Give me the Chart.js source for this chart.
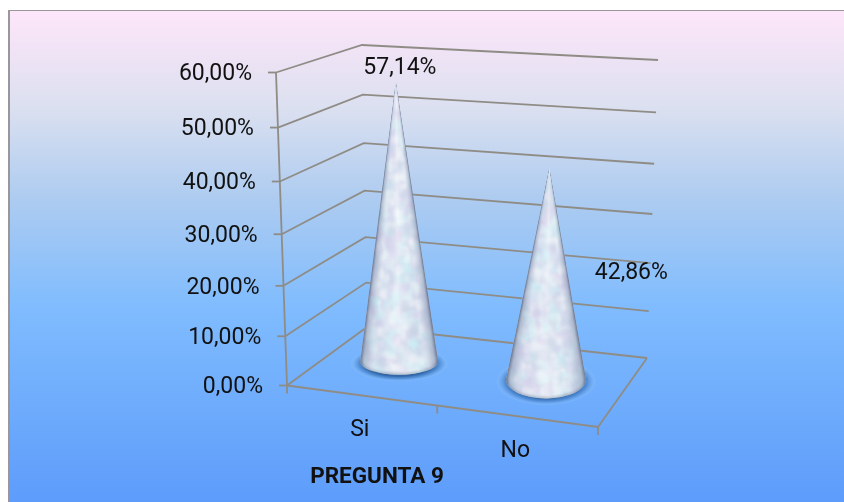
<!DOCTYPE html>
<html lang="es">
<head>
<meta charset="utf-8">
<title>Pregunta 9</title>
<script src="https://cdn.jsdelivr.net/npm/chart.js@4"></script>
<style>
  html, body { margin: 0; padding: 0; background: #fff; }
  canvas { display: block; }
</style>
</head>
<body>
<canvas id="chart" width="844" height="502"></canvas>
<script>
// Chart content
const categories = ['Si', 'No'];
const respuestas = [57.14, 42.86];
const axisMax = 60;
const axisStep = 10;
const axisTitle = 'PREGUNTA 9';

const FONT = 'Roboto, "Open Sans", sans-serif';
const GRID_COLOR = '#8f8c86';

// Oblique view of the plot box: floor corners, wall height and lean at each corner
const view = {
  floor: { fl: [287, 385.5], fr: [598, 427], br: [647, 358], bl: [367, 327] },
  rise:  { fl: 313, fr: 325, br: 298, bl: 282 },
  lean:  { fl: -11, fr: 6, br: 11, bl: -5 },
  sag: 0.067
};
const coneLayout = { depth: 0.56, shiftX: -6, heightRatio: 0.985, rxBase: 38.5, rxGrow: 2, ryBase: 10, ryGrow: 12 };
const labelOffsets = [[4, -14], [82, 105]];
const floorTicks = [0, 0.483, 1];

const mix = (a, b, t) => a + (b - a) * t;
const bilinear = (c, u, d) => mix(mix(c.fl, c.fr, u), mix(c.bl, c.br, u), d);

// Maps position along the category axis (u), depth (d) and axis value to the canvas
function project(chart, u, d, value) {
  const y = chart.scales.y;
  const t = (y.bottom - y.getPixelForValue(value)) / y.height;
  const e = t - view.sag * t * (1 - t);
  const fx = { fl: view.floor.fl[0], fr: view.floor.fr[0], br: view.floor.br[0], bl: view.floor.bl[0] };
  const fy = { fl: view.floor.fl[1], fr: view.floor.fr[1], br: view.floor.br[1], bl: view.floor.bl[1] };
  return {
    x: bilinear(fx, u, d) + bilinear(view.lean, u, d) * e,
    y: bilinear(fy, u, d) - bilinear(view.rise, u, d) * e
  };
}

function seeded(seed) {
  let s = seed >>> 0;
  return () => {
    s = (s + 0x6D2B79F5) >>> 0;
    let r = Math.imul(s ^ (s >>> 15), 1 | s);
    r = (r + Math.imul(r ^ (r >>> 7), 61 | r)) ^ r;
    return ((r ^ (r >>> 14)) >>> 0) / 4294967296;
  };
}

// Mottled pearl surface used on the cones
function pearlTexture(w, h, seed) {
  const off = document.createElement('canvas');
  off.width = w; off.height = h;
  const c = off.getContext('2d');
  c.fillStyle = '#e2eaf4';
  c.fillRect(0, 0, w, h);
  c.filter = 'blur(1.6px)';
  const tints = ['#c8f2f8', '#dccfee', '#ffffff', '#c3cfe4', '#eef8fb', '#d9d8f0'];
  const rnd = seeded(seed);
  for (let i = 0; i < w * h / 14; i++) {
    c.fillStyle = tints[Math.floor(rnd() * tints.length)];
    c.globalAlpha = 0.4;
    c.beginPath();
    c.ellipse(rnd() * w, rnd() * h, 2 + rnd() * 3, 2 + rnd() * 5, 0, 0, Math.PI * 2);
    c.fill();
  }
  return off;
}

function drawCone(ctx, apex, base, rx, ry, seed) {
  const top = Math.floor(apex.y), bottom = Math.ceil(base.y + ry);

  ctx.save();
  ctx.beginPath();
  ctx.moveTo(apex.x, apex.y);
  ctx.lineTo(base.x + rx, base.y);
  ctx.ellipse(base.x, base.y, rx, ry, 0, 0, Math.PI);
  ctx.closePath();
  ctx.clip();

  ctx.drawImage(pearlTexture(Math.ceil(rx * 2) + 8, bottom - top + 4, seed), base.x - rx - 4, top - 2);

  // Round shading, row by row along the leaning axis
  for (let py = top; py <= bottom; py++) {
    const k = Math.min(1, (py - apex.y) / (base.y - apex.y));
    const cx = mix(apex.x, base.x, k);
    const half = Math.max(0.5, rx * k);
    const g = ctx.createLinearGradient(cx - half, 0, cx + half, 0);
    g.addColorStop(0, 'rgba(85,100,130,0.85)');
    g.addColorStop(0.05, 'rgba(125,140,170,0.48)');
    g.addColorStop(0.2, 'rgba(190,205,225,0.12)');
    g.addColorStop(0.5, 'rgba(255,255,255,0.3)');
    g.addColorStop(0.8, 'rgba(190,205,225,0.12)');
    g.addColorStop(0.95, 'rgba(125,140,170,0.48)');
    g.addColorStop(1, 'rgba(85,100,130,0.85)');
    ctx.fillStyle = g;
    ctx.fillRect(cx - half - 1, py, half * 2 + 2, 1);
  }

  // Dark rim on the near edge of the base
  ctx.filter = 'blur(1.5px)';
  ctx.strokeStyle = 'rgba(85,100,130,0.6)';
  ctx.lineWidth = 2;
  ctx.beginPath();
  ctx.ellipse(base.x, base.y, rx, ry, 0, 0, Math.PI);
  ctx.stroke();
  ctx.restore();
}

function drawShadow(ctx, base, rx, ry) {
  ctx.save();
  ctx.translate(base.x, base.y + 2);
  ctx.scale(1, (ry + 5) / (rx + 10));
  const r = rx + 10;
  const g = ctx.createRadialGradient(0, 0, r * 0.7, 0, 0, r);
  g.addColorStop(0, 'rgba(40,90,150,0.85)');
  g.addColorStop(0.4, 'rgba(60,120,190,0.62)');
  g.addColorStop(0.85, 'rgba(130,185,245,0.4)');
  g.addColorStop(1, 'rgba(150,200,255,0)');
  ctx.fillStyle = g;
  ctx.beginPath();
  ctx.arc(0, 0, r, 0, Math.PI * 2);
  ctx.fill();
  ctx.restore();
}

function line(ctx, points) {
  ctx.beginPath();
  points.forEach((p, i) => (i ? ctx.lineTo(p.x, p.y) : ctx.moveTo(p.x, p.y)));
  ctx.stroke();
}

// Panel behind the plot: pink-to-blue fade with a grey edge on the top and left
const panelPlugin = {
  id: 'panel',
  beforeDraw(chart) {
    const { ctx, width, height } = chart;
    ctx.save();
    const g = ctx.createLinearGradient(0, 10, 0, height);
    g.addColorStop(0, '#fee6f9');
    g.addColorStop(0.2, '#dbe0f0');
    g.addColorStop(0.38, '#aeccf0');
    g.addColorStop(0.6, '#80bcfe');
    g.addColorStop(1, '#5d9cfb');
    ctx.fillStyle = '#ffffff';
    ctx.fillRect(0, 0, width, height);
    ctx.fillStyle = g;
    ctx.fillRect(9, 10, width - 9, height - 10);
    ctx.fillStyle = '#9a979c';
    ctx.fillRect(8, 10, width - 8, 1);
    ctx.fillRect(8, 10, 2, height - 10);
    ctx.restore();
  }
};

// Walls, floor, cones and all text of the oblique plot
const obliquePlugin = {
  id: 'oblique',
  afterDatasetsDraw(chart) {
    const { ctx, scales: { x, y } } = chart;
    const ticks = y.ticks;
    ctx.save();
    ctx.strokeStyle = GRID_COLOR;
    ctx.lineWidth = 1.8;

    // Gridlines bend at the back corner of the left wall
    ticks.forEach(t => {
      line(ctx, [project(chart, 0, 0, t.value), project(chart, 0, 1, t.value), project(chart, 1, 1, t.value)]);
      const p = project(chart, 0, 0, t.value);
      line(ctx, [{ x: p.x - 8, y: p.y }, p]);
    });
    line(ctx, [project(chart, 0, 0, 0), project(chart, 0, 0, axisMax)]);

    // Floor outline and category ticks on its front edge
    line(ctx, [project(chart, 0, 0, 0), project(chart, 1, 0, 0), project(chart, 1, 1, 0)]);
    floorTicks.forEach(u => {
      const p = project(chart, u, 0, 0);
      line(ctx, [p, { x: p.x, y: p.y + 8 }]);
    });

    // Cones
    const meta = chart.getDatasetMeta(0);
    const values = chart.data.datasets[0].data;
    const cones = values.map((v, i) => {
      const u = (meta.data[i].x - x.left) / x.width;
      const base = project(chart, u, coneLayout.depth, 0);
      const top = project(chart, u, coneLayout.depth, v);
      base.x += coneLayout.shiftX;
      return {
        base,
        apex: {
          x: top.x + coneLayout.shiftX,
          y: base.y - (base.y - top.y) * coneLayout.heightRatio
        },
        rx: coneLayout.rxBase + coneLayout.rxGrow * u,
        ry: coneLayout.ryBase + coneLayout.ryGrow * u
      };
    });
    cones.forEach(c => drawShadow(ctx, c.base, c.rx, c.ry));
    cones.forEach((c, i) => drawCone(ctx, c.apex, c.base, c.rx, c.ry, 11 + i * 7));

    // Text
    ctx.fillStyle = '#111111';
    ctx.font = '23px ' + FONT;
    ctx.textBaseline = 'middle';
    ctx.textAlign = 'right';
    ticks.forEach(t => {
      const p = project(chart, 0, 0, t.value);
      ctx.fillText(t.label, p.x - 24, p.y + 2);
    });
    ctx.textAlign = 'center';
    categories.forEach((name, i) => {
      const u = (meta.data[i].x - x.left) / x.width;
      const p = project(chart, u, 0, 0);
      ctx.fillText(name, p.x - 5, p.y + 34.5);
    });
    values.forEach((v, i) => {
      const c = cones[i];
      ctx.fillText(formatPercent(v), c.apex.x + labelOffsets[i][0], c.apex.y + labelOffsets[i][1]);
    });
    ctx.font = 'bold 22.5px ' + FONT;
    ctx.fillText(axisTitle, 377, 477);
    ctx.restore();
  }
};

function formatPercent(v) {
  return v.toFixed(2).replace('.', ',') + '%';
}

new Chart(document.getElementById('chart'), {
  type: 'bar',
  data: {
    labels: categories,
    datasets: [{ data: respuestas, backgroundColor: 'rgba(0,0,0,0)', borderWidth: 0 }]
  },
  options: {
    responsive: false,
    animation: false,
    layout: { padding: { left: 287, right: 246, top: 72, bottom: 116 } },
    plugins: { legend: { display: false }, tooltip: { enabled: false } },
    scales: {
      x: { display: false },
      y: {
        display: false,
        min: 0,
        max: axisMax,
        ticks: { stepSize: axisStep, callback: formatPercent }
      }
    }
  },
  plugins: [panelPlugin, obliquePlugin]
});
</script>
</body>
</html>
